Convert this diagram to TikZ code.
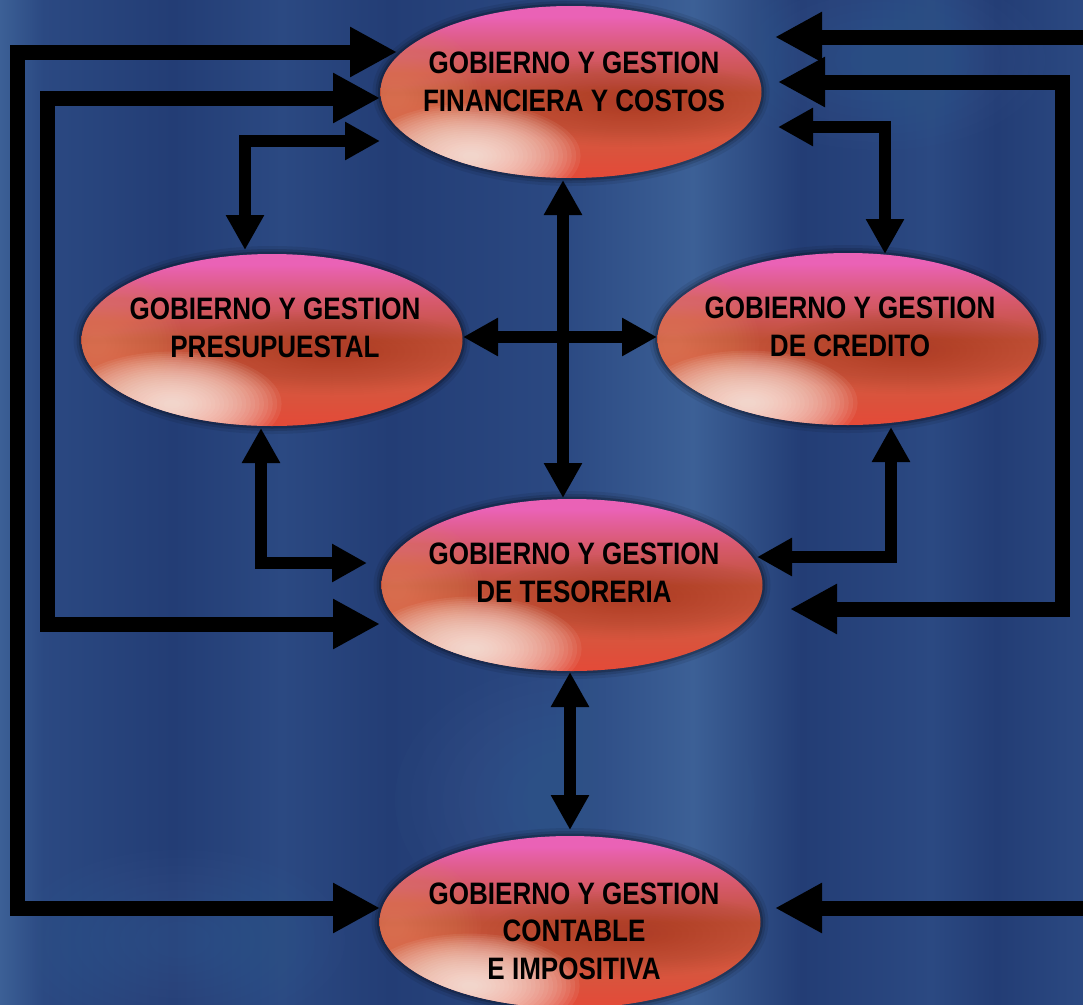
\documentclass[tikz,border=0pt]{standalone}
\usepackage{fontspec}
\newfontfamily\lblfont{Liberation Sans}[FakeStretch=0.84]
\usetikzlibrary{arrows.meta,shapes.geometric,calc}

\definecolor{bgD}{RGB}{35,61,117}
\definecolor{bgM}{RGB}{43,73,130}
\definecolor{bgL}{RGB}{60,96,150}
\definecolor{ePink}{RGB}{234,98,182}
\definecolor{eUp}{RGB}{216,90,112}
\definecolor{eMid}{RGB}{192,80,54}
\definecolor{eLow}{RGB}{214,86,62}
\definecolor{eRed}{RGB}{228,74,56}
\definecolor{eOr}{RGB}{238,140,104}
\definecolor{eBr}{RGB}{165,62,40}
\definecolor{eWh}{RGB}{255,244,236}

\pgfdeclarehorizontalshading{bgsh}{100bp}{color(0bp)=(bgL); color(25bp)=(bgL);
 color(27bp)=(bgM); color(33bp)=(bgD); color(38bp)=(bgM); color(43bp)=(bgD);
 color(51bp)=(bgM); color(57bp)=(bgL); color(62bp)=(bgD); color(68bp)=(bgM);
 color(71bp)=(bgD); color(75bp)=(bgM); color(100bp)=(bgM)}
\pgfdeclareverticalshading{ellsh}{100bp}{color(0bp)=(eRed); color(25bp)=(eRed);
 color(36bp)=(eLow); color(50bp)=(eMid); color(62bp)=(eUp); color(72bp)=(ePink);
 color(75bp)=(ePink); color(100bp)=(ePink)}

\tikzset{
  BT/.tip={Triangle[length=47pt,width=47pt]},
  ST/.tip={Triangle[length=35pt,width=36pt]},
  bigconn/.style={line width=15pt, line join=miter, draw=black},
  smallconn/.style={line width=12pt, line join=miter, draw=black},
  ell/.style={ellipse, minimum width=381pt, minimum height=172pt, inner sep=0pt,
    outer sep=0pt, shade, shading=ellsh,
    preaction={draw=black, line width=16pt, opacity=0.08},
    preaction={draw=black, line width=10pt, opacity=0.12},
    preaction={draw=black, line width=5pt, opacity=0.2},
    path picture={
      \foreach \k in {1,...,20}{
        \fill[eOr, opacity=0.045]
          ($(path picture bounding box.center)+(-175pt,-5pt)$) ellipse [x radius={6pt+4pt*\k}, y radius={6pt+3.5pt*\k}];
      }
      \foreach \k in {1,...,20}{
        \fill[eBr, opacity=0.035]
          ($(path picture bounding box.center)+(60pt,-12pt)$) ellipse [x radius={10pt+7pt*\k}, y radius={3pt+2pt*\k}];
      }
      \foreach \k in {1,...,24}{
        \fill[eWh, opacity=0.075]
          ($(path picture bounding box.center)+(-100pt,-64pt)$) ellipse [x radius={4pt+4.4pt*\k}, y radius={2pt+2.1pt*\k}];
      }
    }},
  lbl/.style={align=center, inner sep=0pt, text=black,
    font=\lblfont\bfseries\fontsize{31}{37.5}\selectfont}
}

\begin{document}
\begin{tikzpicture}[x=1pt,y=-1pt]
\useasboundingbox (0,0) rectangle (1083,1004);
\shade[shading=bgsh] (0,0) rectangle (1083,1004);
\foreach \k in {1,...,10}{
  \fill[bgL, opacity=0.06] (575,800) ellipse [x radius={20pt+16pt*\k}, y radius={15pt+12pt*\k}];
  \fill[bgL, opacity=0.05] (180,940) ellipse [x radius={15pt+15pt*\k}, y radius={10pt+8pt*\k}];
  \fill[bgL, opacity=0.05] (880,60) ellipse [x radius={15pt+15pt*\k}, y radius={10pt+8pt*\k}];
}

% ellipses
\node[ell] (F) at (571,92) {};
\node[ell] (P) at (272,340) {};
\node[ell] (C) at (848,339) {};
\node[ell] (T) at (572,585) {};
\node[ell] (CI) at (570,922) {};

% labels
\node[lbl] (Ft) at ($(F.center)+(3,-10)$) {GOBIERNO Y GESTION\\FINANCIERA Y COSTOS};
\node[lbl] (Pt) at ($(P.center)+(3,-12)$) {GOBIERNO Y GESTION\\PRESUPUESTAL};
\node[lbl] (Ct) at ($(C.center)+(2,-12)$) {GOBIERNO Y GESTION\\DE CREDITO};
\node[lbl] (Tt) at ($(T.center)+(2,-12)$) {GOBIERNO Y GESTION\\DE TESORERIA};
\node[lbl] (CIt) at ($(CI.center)+(4,9)$) {GOBIERNO Y GESTION\\CONTABLE\\E IMPOSITIVA};

% free ends at the right edge
\coordinate (r1) at (1095,37);
\coordinate (r2) at (1095,908);

% long connectors
\draw[bigconn, arrows={BT-BT}] ($(F.center)+(-174,-40)$) -- ++(-380,0) |- ($(CI.center)+(-190,-14)$);
\draw[bigconn, arrows={BT-BT}] ($(F.center)+(-191,6)$) -- ++(-333,0) |- ($(T.center)+(-192,39)$);
\draw[bigconn, arrows={BT-BT}] ($(F.center)+(207,-10)$) -- ++(284,0) |- ($(T.center)+(218,24)$);
\draw[bigconn, arrows={-BT}] (r1) -- ($(F.center)+(204,-55)$);
\draw[bigconn, arrows={-BT}] (r2) -- ($(CI.center)+(205,-14)$);

% short connectors
\draw[smallconn, arrows={ST-ST}] ($(F.center)+(-191,49)$) -| ($(P.center)+(-27,-90)$);
\draw[smallconn, arrows={ST-ST}] ($(F.center)+(207,35)$) -| ($(C.center)+(37,-85)$);
\draw[smallconn, arrows={ST-ST}] ($(F.center)+(-8,88)$) -- ($(T.center)+(-9,-87)$);
\draw[smallconn, arrows={ST-ST}] ($(P.center)+(191,-3)$) -- ($(C.center)+(-191,-2)$);
\draw[smallconn, arrows={ST-ST}] ($(P.center)+(-11,88)$) |- ($(T.center)+(-205,-22)$);
\draw[smallconn, arrows={ST-ST}] ($(C.center)+(43,88)$) |- ($(T.center)+(185,-28)$);
\draw[smallconn, arrows={ST-ST}] ($(T.center)+(-2,87)$) -- ($(CI.center)+(0,-92)$);
\end{tikzpicture}
\end{document}
